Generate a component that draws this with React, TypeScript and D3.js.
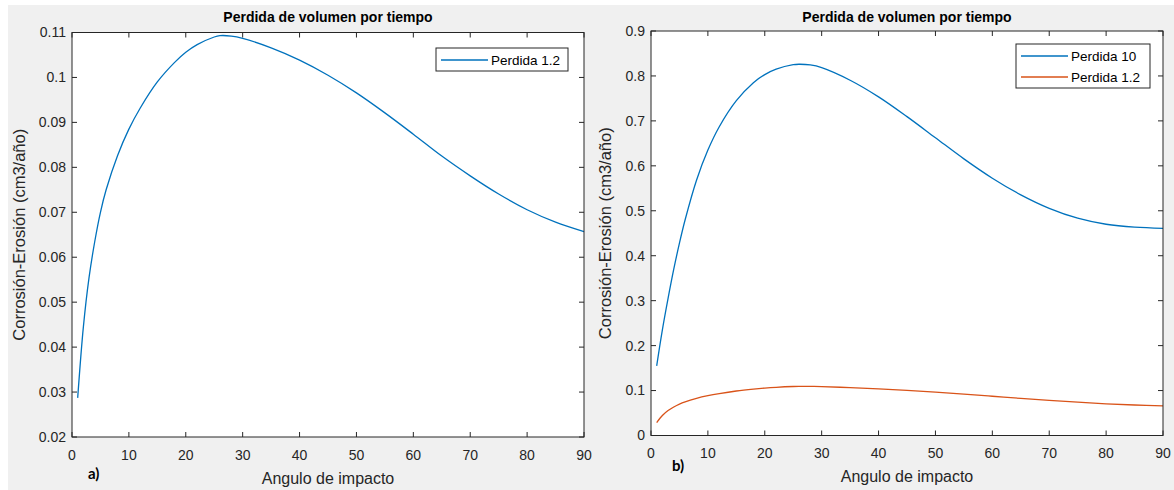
import React from "react";
import * as d3 from "d3";

// ---- data ----
const angles = [1, 2, 3, 4, 5, 6, 8, 10, 12, 15, 18, 20, 22, 25, 26, 28, 30, 35, 40, 45, 50, 55, 60, 65, 70, 75, 80, 85, 90];
const perdida12 = [0.0287, 0.0445, 0.0555, 0.0635, 0.0700, 0.0750, 0.0826, 0.0885, 0.0932, 0.0990, 0.1033, 0.1056, 0.1073, 0.1090, 0.1093, 0.1092, 0.1087, 0.10659, 0.10386, 0.1005, 0.09657, 0.09212, 0.08737, 0.0825, 0.0781, 0.07406, 0.07057, 0.06781, 0.0657];
const perdida10 = [0.155, 0.235, 0.305, 0.37, 0.428, 0.48, 0.568, 0.635, 0.687, 0.745, 0.785, 0.803, 0.815, 0.825, 0.826, 0.8245, 0.8185, 0.7905, 0.7535, 0.7095, 0.6625, 0.6155, 0.5725, 0.5355, 0.5055, 0.4835, 0.470, 0.4635, 0.461];

const xTicks = [0, 10, 20, 30, 40, 50, 60, 70, 80, 90];
const yTicksA = [0.02, 0.03, 0.04, 0.05, 0.06, 0.07, 0.08, 0.09, 0.1, 0.11];
const yTicksB = [0, 0.1, 0.2, 0.3, 0.4, 0.5, 0.6, 0.7, 0.8, 0.9];

const title = "Perdida de volumen por tiempo";
const xLabel = "Angulo de impacto";
const yLabel = "Corrosión-Erosión (cm3/año)";

const BLUE = "#0072BD";
const ORANGE = "#D95319";
const AX = "#262626";
const FONT = "'Liberation Sans', Arial, Helvetica, sans-serif";

type Series = { name: string; values: number[]; color: string };

function Panel(props: {
  left: number; right: number; top: number; bottom: number;
  yDomain: [number, number]; yTicks: number[]; series: Series[];
  legend: { x: number; y: number; w: number; h: number };
  tag: string; tagX: number; tagY: number; yLabelX: number; xLabelY: number; tickLabelY: number;
}) {
  const { left, right, top, bottom, yDomain, yTicks, series, legend } = props;
  const x = d3.scaleLinear().domain([0, 90]).range([left, right]);
  const y = d3.scaleLinear().domain(yDomain).range([bottom, top]);
  const line = d3.line<number>().x((_, i) => x(angles[i])).y((v) => y(v)).curve(d3.curveCatmullRom.alpha(0.5));
  const fmt = d3.format("~g");
  const tl = 5;
  const cx = (left + right) / 2;
  const cy = (top + bottom) / 2;
  return (
    <g>
      <rect x={left} y={top} width={right - left} height={bottom - top} fill="#fff" />
      {series.map((s) => (
        <path key={s.name} d={line(s.values) || ""} fill="none" stroke={s.color} strokeWidth={1.3} />
      ))}
      <rect x={left} y={top} width={right - left} height={bottom - top} fill="none" stroke={AX} strokeWidth={1} />
      {xTicks.map((t) => (
        <g key={"x" + t}>
          <line x1={x(t)} x2={x(t)} y1={bottom} y2={bottom - tl} stroke={AX} />
          <line x1={x(t)} x2={x(t)} y1={top} y2={top + tl} stroke={AX} />
          <text x={x(t)} y={props.tickLabelY} textAnchor="middle" fontSize={14} fill={AX} fontFamily={FONT}>{t}</text>
        </g>
      ))}
      {yTicks.map((t) => (
        <g key={"y" + t}>
          <line x1={left} x2={left + tl} y1={y(t)} y2={y(t)} stroke={AX} />
          <line x1={right} x2={right - tl} y1={y(t)} y2={y(t)} stroke={AX} />
          <text x={left - 6} y={y(t)} dy="0.35em" textAnchor="end" fontSize={14} fill={AX} fontFamily={FONT}>{fmt(t)}</text>
        </g>
      ))}
      <text x={cx} y={22} textAnchor="middle" fontSize={14} fontWeight="bold" fill="#000" fontFamily={FONT}>{title}</text>
      <text x={cx} y={props.xLabelY} textAnchor="middle" fontSize={16} fill={AX} fontFamily={FONT}>{xLabel}</text>
      <text transform={`translate(${props.yLabelX},${cy}) rotate(-90)`} textAnchor="middle" fontSize={16.5} fill={AX} fontFamily={FONT}>{yLabel}</text>
      <rect x={legend.x} y={legend.y} width={legend.w} height={legend.h} fill="#fff" stroke={AX} strokeWidth={1} />
      {series.map((s, i) => {
        const ly = legend.y + 12 + i * 21;
        return (
          <g key={"l" + s.name}>
            <line x1={legend.x + 5} x2={legend.x + 52} y1={ly} y2={ly} stroke={s.color} strokeWidth={1.3} />
            <text x={legend.x + 55} y={ly} dy="0.35em" fontSize={13.5} fill="#000" fontFamily={FONT}>{s.name}</text>
          </g>
        );
      })}
      <text x={props.tagX} y={props.tagY} fontSize={15} fontWeight="bold" fill="#000" fontFamily="Lato, 'Liberation Sans', sans-serif">{props.tag}</text>
    </g>
  );
}

export default function App() {
  return (
    <svg width={1174} height={490} style={{ position: "absolute", left: 0, top: 0 }}>
      <rect x={0} y={0} width={1174} height={490} fill="#fff" />
      <rect x={8} y={5} width={1166} height={485} fill="#f0f0f0" />
      <Panel
        left={72} right={584} top={32.5} bottom={437}
        yDomain={[0.02, 0.11]} yTicks={yTicksA}
        series={[{ name: "Perdida 1.2", values: perdida12, color: BLUE }]}
        legend={{ x: 436, y: 48, w: 132, h: 23 }}
        tag="a)" tagX={88} tagY={479} yLabelX={25} xLabelY={484} tickLabelY={460}
      />
      <Panel
        left={651} right={1163} top={31} bottom={435.5}
        yDomain={[0, 0.9]} yTicks={yTicksB}
        series={[
          { name: "Perdida 10", values: perdida10, color: BLUE },
          { name: "Perdida 1.2", values: perdida12, color: ORANGE },
        ]}
        legend={{ x: 1016, y: 44, w: 134, h: 44 }}
        tag="b)" tagX={672} tagY={471} yLabelX={611} xLabelY={482} tickLabelY={458}
      />
    </svg>
  );
}
